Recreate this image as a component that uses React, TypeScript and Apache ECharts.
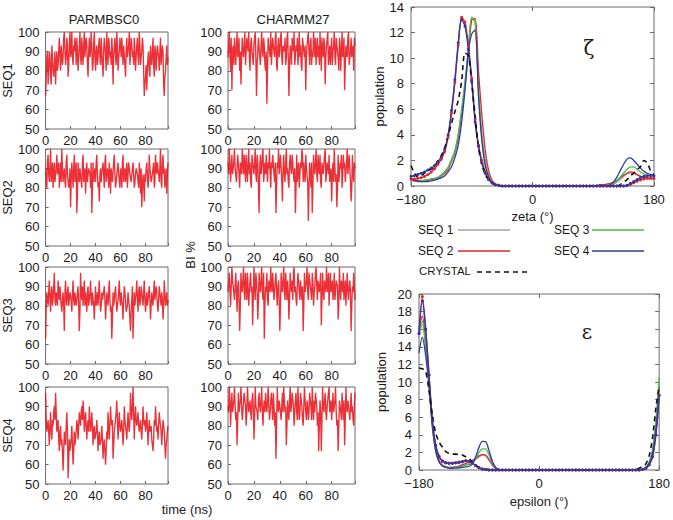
import React, { useEffect, useRef } from "react";
import * as echarts from "echarts";

// ---------- time series (BI %): frames at whole ns (A) and at half ns (B) ----------
const PARM_SEQ1 = [
  67, 87, 73, 90, 77, 93, 80, 83, 73, 90,
  83, 97, 80, 93, 87, 100, 83, 97, 77, 93,
  87, 100, 83, 90, 93, 97, 80, 93, 87, 97,
  83, 100, 87, 93, 77, 97, 90, 93, 83, 100,
  80, 93, 87, 97, 83, 90, 77, 97, 87, 100,
  83, 93, 90, 97, 73, 93, 87, 100, 80, 90,
  93, 97, 83, 93, 77, 97, 87, 100, 83, 93,
  90, 97, 80, 93, 87, 100, 83, 90, 93, 67,
  77, 70, 87, 80, 93, 83, 97, 77, 90, 87,
  93, 80, 97, 83, 90, 67, 80, 93, 87,
];
const PARM_SEQ1_B = [
  77, 90, 80, 87, 73, 87, 77, 90, 83, 80,
  90, 87, 93, 83, 97, 90, 87, 93, 83, 100,
  90, 87, 93, 97, 83, 90, 87, 100, 83, 90,
  93, 87, 97, 83, 90, 87, 100, 80, 93, 87,
  90, 83, 93, 87, 97, 83, 90, 93, 80, 90,
  97, 87, 83, 90, 87, 97, 83, 93, 87, 97,
  87, 90, 93, 83, 90, 87, 93, 83, 97, 87,
  83, 90, 87, 97, 83, 93, 87, 97, 80, 73,
  83, 80, 90, 77, 87, 90, 83, 93, 80, 93,
  87, 90, 83, 93, 73, 77, 87, 83,
];
const CHARMM_SEQ1 = [
  87, 100, 80, 70, 93, 97, 83, 100, 90, 80,
  73, 97, 87, 100, 83, 93, 100, 80, 97, 87,
  93, 100, 67, 90, 97, 83, 100, 87, 93, 80,
  63, 97, 90, 100, 83, 93, 87, 100, 80, 97,
  90, 100, 83, 93, 97, 87, 100, 67, 93, 83,
  97, 100, 87, 90, 83, 100, 93, 80, 97, 87,
  70, 93, 100, 83, 97, 90, 100, 87, 83, 97,
  93, 100, 80, 90, 97, 73, 93, 100, 87, 83,
  97, 90, 100, 83, 93, 87, 97, 80, 100, 90,
  70, 93, 87, 100, 83, 97, 90, 80, 93,
];
const CHARMM_SEQ1_B = [
  93, 87, 97, 90, 83, 90, 93, 87, 97, 90,
  87, 90, 93, 83, 97, 90, 87, 93, 90, 83,
  97, 87, 83, 97, 87, 93, 90, 97, 83, 90,
  80, 93, 87, 83, 97, 90, 97, 83, 93, 87,
  97, 87, 93, 90, 83, 97, 87, 83, 90, 97,
  90, 83, 93, 97, 90, 87, 83, 97, 90, 93,
  87, 97, 90, 93, 83, 87, 93, 97, 90, 87,
  83, 90, 97, 87, 93, 87, 97, 83, 93, 90,
  83, 93, 87, 97, 90, 80, 93, 90, 87, 97,
  83, 90, 97, 83, 90, 87, 93, 97,
];
const PARM_SEQ2 = [
  90, 80, 97, 83, 100, 87, 80, 93, 83, 97,
  87, 80, 93, 100, 83, 90, 80, 97, 87, 83,
  70, 93, 80, 97, 87, 67, 93, 83, 90, 80,
  97, 87, 77, 93, 83, 90, 80, 67, 93, 87,
  83, 97, 80, 73, 90, 87, 93, 80, 97, 83,
  87, 93, 77, 90, 83, 97, 80, 87, 93, 83,
  90, 80, 97, 87, 83, 93, 80, 90, 87, 83,
  93, 80, 87, 90, 83, 93, 77, 70, 87, 73,
  83, 93, 80, 97, 87, 83, 90, 80, 97, 87,
  93, 83, 100, 80, 97, 90, 83, 77, 93,
];
const PARM_SEQ2_B = [
  83, 93, 87, 90, 83, 93, 87, 83, 90, 87,
  93, 87, 83, 90, 87, 83, 93, 87, 80, 90,
  83, 87, 90, 83, 93, 77, 87, 90, 83, 93,
  83, 90, 87, 83, 90, 87, 93, 80, 83, 90,
  93, 87, 83, 87, 83, 90, 87, 93, 83, 90,
  80, 87, 90, 83, 93, 87, 83, 90, 87, 80,
  87, 93, 83, 90, 87, 80, 93, 87, 83, 90,
  87, 83, 90, 87, 80, 87, 90, 80, 83, 87,
  90, 87, 83, 90, 83, 87, 93, 83, 90, 93,
  87, 90, 83, 93, 87, 80, 90, 87,
];
const CHARMM_SEQ2 = [
  93, 100, 83, 97, 87, 100, 90, 83, 97, 80,
  93, 100, 87, 90, 97, 83, 100, 93, 80, 97,
  87, 100, 83, 93, 67, 97, 90, 100, 83, 87,
  97, 93, 100, 80, 90, 97, 83, 67, 93, 100,
  87, 90, 73, 97, 83, 100, 90, 80, 97, 87,
  93, 83, 67, 97, 90, 80, 93, 100, 83, 87,
  97, 90, 63, 93, 80, 67, 97, 87, 100, 83,
  90, 97, 80, 93, 87, 100, 83, 90, 97, 87,
  73, 93, 100, 83, 70, 97, 87, 90, 80, 97,
  93, 83, 100, 87, 90, 73, 97, 83, 90,
];
const CHARMM_SEQ2_B = [
  87, 93, 90, 87, 93, 90, 83, 97, 87, 93,
  87, 93, 97, 83, 90, 93, 87, 83, 97, 90,
  93, 87, 97, 80, 90, 87, 97, 83, 93, 97,
  83, 90, 87, 93, 97, 87, 93, 80, 90, 87,
  97, 83, 90, 87, 93, 87, 83, 93, 90, 97,
  87, 90, 80, 83, 93, 87, 90, 97, 93, 83,
  90, 83, 80, 87, 93, 80, 90, 93, 87, 97,
  87, 83, 93, 87, 97, 83, 93, 87, 83, 90,
  87, 83, 90, 87, 80, 83, 93, 97, 87, 90,
  83, 93, 87, 97, 83, 80, 87, 93,
];
const PARM_SEQ3 = [
  63, 87, 80, 93, 77, 90, 83, 97, 80, 87,
  93, 83, 90, 77, 87, 67, 93, 80, 90, 83,
  87, 77, 93, 80, 87, 83, 90, 67, 97, 83,
  80, 93, 87, 77, 90, 83, 93, 80, 87, 73,
  90, 83, 80, 93, 77, 87, 83, 90, 73, 87,
  80, 93, 77, 63, 87, 83, 90, 77, 83, 93,
  80, 87, 73, 90, 83, 77, 87, 80, 67, 83,
  63, 87, 80, 93, 77, 90, 83, 87, 80, 93,
  77, 87, 83, 90, 73, 87, 80, 93, 83, 87,
  77, 90, 83, 87, 73, 93, 80, 87, 83,
];
const PARM_SEQ3_B = [
  80, 83, 87, 83, 87, 80, 90, 83, 87, 80,
  87, 90, 80, 83, 80, 87, 83, 87, 80, 87,
  83, 87, 83, 87, 80, 87, 80, 77, 87, 90,
  87, 80, 83, 87, 80, 87, 83, 87, 80, 83,
  80, 87, 87, 83, 80, 83, 87, 83, 80, 83,
  87, 83, 80, 73, 80, 87, 83, 80, 87, 83,
  87, 80, 83, 87, 77, 80, 83, 73, 77, 90,
  77, 80, 87, 83, 87, 80, 90, 83, 87, 83,
  83, 80, 87, 83, 80, 83, 87, 83, 90, 80,
  83, 87, 80, 83, 80, 87, 83, 80,
];
const CHARMM_SEQ3 = [
  87, 97, 80, 100, 90, 83, 97, 77, 93, 67,
  97, 87, 100, 83, 90, 97, 80, 93, 87, 70,
  100, 83, 93, 73, 97, 87, 100, 83, 63, 90,
  97, 80, 93, 100, 87, 90, 83, 97, 80, 93,
  67, 97, 87, 100, 83, 90, 93, 73, 97, 87,
  83, 100, 90, 80, 97, 87, 93, 83, 67, 97,
  90, 100, 83, 93, 87, 97, 80, 90, 100, 83,
  93, 87, 70, 97, 83, 93, 100, 87, 80, 97,
  90, 83, 97, 87, 93, 73, 100, 83, 90, 97,
  87, 80, 97, 83, 93, 67, 90, 97, 83,
];
const CHARMM_SEQ3_B = [
  93, 87, 90, 93, 87, 90, 87, 90, 83, 80,
  90, 93, 87, 97, 83, 90, 87, 97, 90, 83,
  90, 97, 87, 83, 90, 93, 87, 97, 80, 87,
  83, 93, 87, 90, 97, 83, 93, 87, 90, 83,
  80, 90, 93, 87, 97, 83, 87, 83, 90, 93,
  97, 87, 83, 90, 93, 83, 87, 90, 80, 87,
  93, 87, 97, 90, 83, 93, 87, 97, 90, 93,
  87, 97, 83, 87, 93, 87, 90, 97, 90, 87,
  93, 87, 83, 93, 90, 80, 90, 93, 87, 83,
  93, 90, 87, 90, 87, 80, 87, 90,
];
const PARM_SEQ4 = [
  97, 77, 83, 70, 87, 73, 80, 90, 97, 77,
  83, 67, 80, 73, 57, 77, 70, 87, 53, 73,
  67, 80, 60, 77, 70, 83, 73, 87, 80, 90,
  93, 77, 87, 73, 83, 90, 77, 87, 70, 80,
  73, 83, 67, 77, 70, 80, 63, 73, 60, 77,
  87, 73, 90, 80, 63, 77, 83, 93, 73, 87,
  77, 83, 70, 90, 80, 73, 87, 77, 97, 83,
  100, 73, 90, 80, 87, 77, 83, 73, 90, 80,
  77, 87, 70, 83, 77, 73, 67, 83, 90, 77,
  73, 87, 80, 70, 83, 77, 63, 73, 80,
];
const PARM_SEQ4_B = [
  83, 80, 77, 80, 77, 83, 87, 83, 87, 80,
  73, 77, 70, 67, 67, 73, 80, 77, 63, 67,
  73, 70, 67, 70, 77, 80, 80, 83, 87, 83,
  87, 83, 80, 80, 77, 83, 80, 80, 77, 73,
  77, 77, 73, 70, 73, 73, 70, 67, 67, 73,
  80, 80, 83, 83, 70, 80, 87, 83, 80, 80,
  80, 77, 77, 83, 77, 80, 80, 83, 87, 90,
  87, 83, 83, 83, 80, 80, 77, 80, 83, 83,
  80, 80, 77, 77, 80, 70, 73, 80, 83, 80,
  80, 83, 77, 77, 80, 70, 70, 77,
];
const CHARMM_SEQ4 = [
  90, 100, 80, 97, 87, 100, 83, 70, 97, 90,
  100, 83, 93, 97, 80, 100, 87, 93, 83, 97,
  73, 100, 90, 83, 97, 87, 100, 80, 93, 97,
  87, 100, 83, 93, 90, 97, 80, 63, 100, 87,
  93, 83, 97, 100, 87, 70, 93, 83, 100, 90,
  97, 80, 93, 87, 100, 83, 97, 90, 80, 100,
  87, 93, 83, 97, 90, 100, 83, 87, 97, 80,
  67, 93, 67, 100, 87, 97, 83, 90, 100, 87,
  83, 97, 90, 100, 80, 67, 93, 87, 97, 83,
  70, 100, 87, 93, 83, 97, 90, 80, 97,
];
const CHARMM_SEQ4_B = [
  87, 93, 90, 87, 93, 90, 87, 83, 87, 93,
  90, 87, 97, 90, 87, 93, 90, 87, 93, 90,
  83, 90, 87, 93, 90, 93, 87, 90, 87, 90,
  93, 90, 87, 97, 83, 90, 87, 80, 90, 93,
  87, 90, 87, 93, 90, 80, 87, 93, 87, 97,
  90, 87, 97, 83, 90, 87, 93, 83, 90, 93,
  83, 90, 87, 93, 83, 90, 93, 97, 90, 87,
  80, 87, 83, 90, 93, 87, 90, 97, 87, 93,
  90, 87, 93, 87, 83, 80, 90, 83, 90, 93,
  83, 90, 93, 87, 90, 87, 83, 90,
];

const FORCE_FIELDS = ["PARMBSC0", "CHARMM27"];
const SEQ_NAMES = ["SEQ1", "SEQ2", "SEQ3", "SEQ4"];
const TIME_TICKS = [0, 20, 40, 60, 80];

// ---------- dihedral distributions (angle grid, degrees) ----------
const ANGLES = [
  -180, -175, -170, -165, -160, -155, -150, -145, -140, -135,
  -130, -125, -120, -115, -110, -105, -100, -95, -90, -85,
  -80, -75, -70, -65, -60, -55, -50, -45, -40, -35,
  -30, -25, -20, -15, -10, -5, 0, 5, 10, 15,
  20, 25, 30, 35, 40, 45, 50, 55, 60, 65,
  70, 75, 80, 85, 90, 95, 100, 105, 110, 115,
  120, 125, 130, 135, 140, 145, 150, 155, 160, 165,
  170, 175, 180,
];

// zeta populations
const ZETA_SEQ1 = [
  0.45, 0.4, 0.4, 0.4, 0.45, 0.5, 0.55, 0.6, 0.7, 0.9, 1.15, 1.5, 2.1, 2.8, 4.1, 6.0, 8.2, 10.8, 13.1, 12.9, 7.8, 4.0, 1.9, 0.8, 0.3, 0.1, 0.05,
  0, 0, 0, 0, 0, 0, 0, 0, 0, 0, 0, 0, 0, 0, 0, 0, 0, 0, 0, 0, 0, 0, 0, 0, 0, 0, 0, 0, 0, 0, 0,
  0.05, 0.1, 0.15, 0.3, 0.5, 0.75, 0.95, 1.0, 0.95, 0.85, 0.75, 0.7, 0.65, 0.6, 0.6,
];
const ZETA_SEQ2 = [
  0.45, 0.4, 0.35, 0.35, 0.4, 0.45, 0.5, 0.55, 0.6, 0.8, 1.0, 1.3, 1.9, 2.6, 3.8, 5.6, 7.8, 10.4, 13.0, 13.1, 9.0, 5.5, 2.8, 1.2, 0.45, 0.15, 0.05,
  0, 0, 0, 0, 0, 0, 0, 0, 0, 0, 0, 0, 0, 0, 0, 0, 0, 0, 0, 0, 0, 0, 0, 0, 0, 0, 0, 0, 0.05, 0.1, 0.1,
  0.15, 0.2, 0.3, 0.45, 0.65, 0.85, 1.0, 1.1, 1.05, 0.9, 0.75, 0.65, 0.6, 0.55, 0.55,
];
const ZETA_SEQ3 = [
  0.5, 0.45, 0.4, 0.4, 0.45, 0.5, 0.55, 0.6, 0.65, 0.85, 1.1, 1.4, 2.0, 2.7, 4.0, 5.9, 8.0, 10.6, 13.2, 12.8, 7.5, 3.8, 1.8, 0.8, 0.3, 0.1, 0.05,
  0, 0, 0, 0, 0, 0, 0, 0, 0, 0, 0, 0, 0, 0, 0, 0, 0, 0, 0, 0, 0, 0, 0, 0, 0, 0, 0, 0, 0, 0, 0,
  0.05, 0.1, 0.2, 0.4, 0.7, 1.0, 1.3, 1.5, 1.5, 1.3, 1.1, 0.95, 0.85, 0.8, 0.75,
];
const ZETA_SEQ4 = [
  0.5, 0.45, 0.4, 0.35, 0.35, 0.35, 0.4, 0.45, 0.55, 0.65, 0.8, 1.1, 1.5, 2.2, 3.2, 5.0, 7.5, 10.5, 11.9, 12.2, 7.0, 3.5, 1.6, 0.7, 0.25, 0.1, 0.03,
  0, 0, 0, 0, 0, 0, 0, 0, 0, 0, 0, 0, 0, 0, 0, 0, 0, 0, 0, 0, 0, 0, 0, 0, 0, 0, 0, 0, 0, 0, 0, 0,
  0.1, 0.3, 0.7, 1.2, 1.7, 2.1, 2.2, 2.0, 1.7, 1.4, 1.15, 1.0, 0.9, 0.85,
];
const ZETA_RED_DOTS = [
  0.55, 0.55, 0.6, 0.65, 0.75, 0.9, 1.1, 1.35, 1.7, 2.1, 2.7, 3.8, 5.7, 8.1, 11.0, 13.2, 12.8, 11.0, 8.4, 5.2, 3.2, 2.0, 1.1, 0.55, 0.25, 0.1, 0.05,
  0, 0, 0, 0, 0, 0, 0, 0, 0, 0, 0, 0, 0, 0, 0, 0, 0, 0, 0, 0, 0, 0, 0, 0, 0, 0, 0, 0, 0, 0, 0, 0, 0, 0, 0, 0,
  0, 0.03, 0.12, 0.25, 0.38, 0.48, 0.55, 0.6, 0.6, 0.6,
];
const ZETA_BLUE_DOTS = [
  0.75, 0.8, 0.9, 1.0, 1.1, 1.25, 1.4, 1.6, 1.9, 2.3, 2.9, 4.0, 5.9, 8.3, 11.2, 13.0, 12.5, 10.7, 8.2, 5.0, 3.1, 1.8, 1.0, 0.5, 0.25, 0.1, 0.05,
  0, 0, 0, 0, 0, 0, 0, 0, 0, 0, 0, 0, 0, 0, 0, 0, 0, 0, 0, 0, 0, 0, 0, 0, 0, 0, 0, 0, 0, 0, 0, 0, 0, 0, 0, 0,
  0, 0.05, 0.2, 0.35, 0.5, 0.65, 0.75, 0.8, 0.82, 0.8,
];
const ZETA_CRYSTAL = [
  1.6, 1.0, 0.7, 0.8, 1.0, 1.2, 1.3, 1.5, 2.0, 2.4, 3.0, 3.9, 4.9, 5.8, 6.7, 8.2, 10.4, 10.2, 8.0, 5.5, 3.0, 1.7, 0.9, 0.45, 0.2, 0.08, 0.03,
  0, 0, 0, 0, 0, 0, 0, 0, 0, 0, 0, 0, 0, 0, 0, 0, 0, 0, 0, 0, 0, 0, 0, 0, 0, 0, 0, 0, 0, 0, 0, 0, 0, 0, 0,
  0.1, 0.3, 0.5, 0.8, 1.0, 1.3, 1.5, 2.0, 1.8, 1.2, 0.9,
];

// epsilon populations
const EPS_SEQ1 = [
  15.0, 16.5, 14.0, 10.0, 5.2, 2.3, 1.0, 0.5, 0.35, 0.3, 0.3, 0.35, 0.45, 0.55, 0.65, 0.7, 0.9, 1.2, 1.5, 1.7, 1.6, 1.1, 0.5, 0.15, 0.05, 0.02,
  0, 0, 0, 0, 0, 0, 0, 0, 0, 0, 0, 0, 0, 0, 0, 0, 0, 0, 0, 0, 0, 0, 0, 0, 0, 0, 0, 0, 0, 0, 0, 0, 0, 0, 0, 0, 0, 0,
  0, 0, 0.02, 0.1, 0.3, 0.8, 2.0, 4.8, 9.0,
];
const EPS_SEQ2 = [
  16.0, 17.5, 14.5, 10.5, 5.5, 2.5, 1.1, 0.55, 0.35, 0.3, 0.3, 0.35, 0.45, 0.6, 0.75, 0.9, 1.1, 1.3, 1.6, 1.75, 1.7, 1.2, 0.6, 0.2, 0.05, 0.02,
  0, 0, 0, 0, 0, 0, 0, 0, 0, 0, 0, 0, 0, 0, 0, 0, 0, 0, 0, 0, 0, 0, 0, 0, 0, 0, 0, 0, 0, 0, 0, 0, 0, 0, 0, 0, 0, 0,
  0, 0, 0.02, 0.1, 0.3, 0.8, 2.0, 4.8, 9.5,
];
const EPS_SEQ3 = [
  15.5, 16.9, 14.0, 9.8, 4.8, 2.1, 0.9, 0.45, 0.3, 0.25, 0.25, 0.3, 0.35, 0.45, 0.55, 0.6, 0.8, 1.3, 2.0, 2.4, 2.4, 1.7, 0.8, 0.25, 0.05, 0.02,
  0, 0, 0, 0, 0, 0, 0, 0, 0, 0, 0, 0, 0, 0, 0, 0, 0, 0, 0, 0, 0, 0, 0, 0, 0, 0, 0, 0, 0, 0, 0, 0, 0, 0, 0, 0, 0, 0,
  0, 0, 0.02, 0.1, 0.35, 0.9, 2.3, 5.5, 10.5,
];
const EPS_SEQ4 = [
  13.3, 15.1, 13.0, 9.5, 5.0, 2.2, 0.95, 0.45, 0.3, 0.22, 0.2, 0.22, 0.25, 0.3, 0.35, 0.4, 0.7, 1.5, 2.6, 3.25, 3.2, 2.2, 1.0, 0.3, 0.05, 0.02,
  0, 0, 0, 0, 0, 0, 0, 0, 0, 0, 0, 0, 0, 0, 0, 0, 0, 0, 0, 0, 0, 0, 0, 0, 0, 0, 0, 0, 0, 0, 0, 0, 0, 0, 0, 0, 0, 0,
  0, 0, 0.02, 0.08, 0.25, 0.7, 1.8, 4.4, 8.5,
];
const EPS_RED_DOTS = [
  15.5, 19.7, 16.0, 10.8, 5.6, 2.8, 1.6, 1.05, 0.85, 0.8, 0.8, 0.85, 0.9, 0.95, 1.05, 1.0, 0.8, 0.5, 0.25, 0.1, 0.05, 0, 0, 0, 0, 0,
  0, 0, 0, 0, 0, 0, 0, 0, 0, 0, 0, 0, 0, 0, 0, 0, 0, 0, 0, 0, 0, 0, 0, 0, 0, 0, 0, 0, 0, 0, 0, 0, 0, 0, 0, 0, 0, 0,
  0, 0, 0, 0.05, 0.2, 0.6, 1.5, 4.0, 8.5,
];
const EPS_BLUE_DOTS = [
  15.5, 19.2, 16.0, 10.8, 5.6, 2.8, 1.5, 1.0, 0.8, 0.75, 0.75, 0.8, 0.85, 0.95, 1.05, 1.0, 0.8, 0.5, 0.25, 0.1, 0.05, 0, 0, 0, 0, 0,
  0, 0, 0, 0, 0, 0, 0, 0, 0, 0, 0, 0, 0, 0, 0, 0, 0, 0, 0, 0, 0, 0, 0, 0, 0, 0, 0, 0, 0, 0, 0, 0, 0, 0, 0, 0, 0, 0,
  0, 0, 0, 0.05, 0.2, 0.6, 1.5, 4.0, 8.5,
];
const EPS_CRYSTAL = [
  11.6, 11.5, 11.2, 9.0, 6.3, 4.2, 3.2, 2.6, 2.1, 1.9, 1.8, 1.8, 1.75, 1.7, 1.5, 1.3, 0.9, 0.5, 0.3, 0.15, 0.1, 0.05, 0, 0, 0, 0,
  0, 0, 0, 0, 0, 0, 0, 0, 0, 0, 0, 0, 0, 0, 0, 0, 0, 0, 0, 0, 0, 0, 0, 0, 0, 0, 0, 0, 0, 0, 0, 0, 0, 0, 0, 0, 0, 0,
  0, 0.05, 0.2, 0.4, 0.7, 1.6, 3.6, 7.0, 9.5,
];

const LEGEND_NAMES = ["SEQ 1", "SEQ 2", "SEQ 3", "SEQ 4", "CRYSTAL"];

// ---------- layout / style ----------
const FONT = "'Liberation Sans', Arial, Helvetica, sans-serif";
const TXT = "#1a1a1a";
const BORDER = "#6a6a6a";
const C_GRAY = "#a3a3a3";
const C_RED = "#e0262b";
const C_GREEN = "#45bf3f";
const C_BLUE = "#2c3aa8";
const C_BLACK = "#111111";
const TS_RED = "#e8141b";

const COL_LEFT = [41, 228];
const PANEL_W = 127;
const ROW_TOP = [32, 149, 267, 387];
const PANEL_H = 97;
const ZETA_GRID = { left: 411, top: 7, width: 243, height: 179 };
const EPS_GRID = { left: 419, top: 294, width: 244, height: 176 };

function buildOption() {
  const tsA = [PARM_SEQ1, CHARMM_SEQ1, PARM_SEQ2, CHARMM_SEQ2, PARM_SEQ3, CHARMM_SEQ3, PARM_SEQ4, CHARMM_SEQ4];
  const tsB = [PARM_SEQ1_B, CHARMM_SEQ1_B, PARM_SEQ2_B, CHARMM_SEQ2_B, PARM_SEQ3_B, CHARMM_SEQ3_B, PARM_SEQ4_B, CHARMM_SEQ4_B];
  const grid: any[] = [];
  const xAxis: any[] = [];
  const yAxis: any[] = [];
  const series: any[] = [];
  const noLine = { show: false, onZero: false };

  tsA.forEach((vals, p) => {
    const r = Math.floor(p / 2);
    const c = p % 2;
    grid.push({ left: COL_LEFT[c], top: ROW_TOP[r], width: PANEL_W, height: PANEL_H, show: true, borderColor: BORDER, borderWidth: 1, backgroundColor: "transparent" });
    xAxis.push({
      type: "value", gridIndex: p, min: 0, max: 98, interval: 20,
      axisLine: noLine, splitLine: { show: false },
      axisTick: { show: true, inside: true, length: 3, lineStyle: { color: BORDER } },
      axisLabel: { fontFamily: FONT, fontSize: 13, color: TXT, margin: 5, formatter: (v: number) => (TIME_TICKS.includes(v) ? String(v) : "") },
    });
    yAxis.push({
      type: "value", gridIndex: p, min: 50, max: 100, interval: 10,
      axisLine: noLine, splitLine: { show: false },
      axisTick: { show: true, inside: true, length: 3, lineStyle: { color: BORDER } },
      axisLabel: { fontFamily: FONT, fontSize: 13, color: TXT, margin: 6 },
      name: c === 0 ? SEQ_NAMES[r] : "",
      nameLocation: "middle", nameGap: 27, nameRotate: 90,
      nameTextStyle: { fontFamily: FONT, fontSize: 13, color: TXT },
    });
    const half = tsB[p];
    const data: number[][] = [];
    vals.forEach((v, i) => {
      data.push([i, v]);
      if (i < half.length) data.push([i + 0.5, half[i]]);
    });
    series.push({
      type: "line", xAxisIndex: p, yAxisIndex: p, silent: true, symbol: "none",
      data,
      lineStyle: { color: TS_RED, width: 1.35, opacity: 0.88, join: "bevel" },
    });
  });

  const distGrids = [ZETA_GRID, EPS_GRID];
  distGrids.forEach((g) => grid.push({ ...g, show: true, borderColor: BORDER, borderWidth: 1, backgroundColor: "transparent" }));
  const gZ = 8, gE = 9;
  const xLab = { fontFamily: FONT, fontSize: 13, color: TXT, margin: 7, formatter: (v: number) => String(v).replace("-", "\u2212") };
  const tick = { show: true, inside: true, length: 4, lineStyle: { color: BORDER } };
  const nameStyle = { fontFamily: FONT, fontSize: 13, color: TXT };
  xAxis.push({ type: "value", gridIndex: gZ, min: -180, max: 180, interval: 180, axisLine: noLine, splitLine: { show: false }, axisTick: tick, axisLabel: xLab, name: "zeta (°)", nameLocation: "middle", nameGap: 24, nameTextStyle: nameStyle });
  xAxis.push({ type: "value", gridIndex: gE, min: -180, max: 180, interval: 180, axisLine: noLine, splitLine: { show: false }, axisTick: tick, axisLabel: xLab, name: "epsilon (°)", nameLocation: "middle", nameGap: 25, nameTextStyle: nameStyle });
  yAxis.push({ type: "value", gridIndex: gZ, min: 0, max: 14, interval: 2, axisLine: noLine, splitLine: { show: false }, axisTick: tick, axisLabel: { fontFamily: FONT, fontSize: 13, color: TXT, margin: 7 }, name: "population", nameLocation: "middle", nameGap: 24, nameRotate: 90, nameTextStyle: nameStyle });
  yAxis.push({ type: "value", gridIndex: gE, min: 0, max: 20, interval: 2, axisLine: noLine, splitLine: { show: false }, axisTick: tick, axisLabel: { fontFamily: FONT, fontSize: 13, color: TXT, margin: 7 }, name: "population", nameLocation: "middle", nameGap: 31, nameRotate: 90, nameTextStyle: nameStyle });
  // mirror ticks (top / right)
  xAxis.push({ type: "value", gridIndex: gZ, position: "top", min: -180, max: 180, interval: 180, axisLine: noLine, splitLine: { show: false }, axisTick: tick, axisLabel: { show: false } });
  xAxis.push({ type: "value", gridIndex: gE, position: "top", min: -180, max: 180, interval: 180, axisLine: noLine, splitLine: { show: false }, axisTick: tick, axisLabel: { show: false } });
  yAxis.push({ type: "value", gridIndex: gZ, position: "right", min: 0, max: 14, interval: 2, axisLine: noLine, splitLine: { show: false }, axisTick: tick, axisLabel: { show: false } });
  yAxis.push({ type: "value", gridIndex: gE, position: "right", min: 0, max: 20, interval: 2, axisLine: noLine, splitLine: { show: false }, axisTick: tick, axisLabel: { show: false } });

  const dist = (vals: number[], axis: number, color: string, extra: any = {}) => ({
    type: "line", xAxisIndex: axis, yAxisIndex: axis, silent: true, smooth: 0.3,
    data: ANGLES.map((a, i) => [a, vals[i]]),
    symbol: "none",
    lineStyle: { color, width: 1.3 },
    ...extra,
  });
  const dots = (color: string) => ({ symbol: "circle", symbolSize: 3, showSymbol: true, itemStyle: { color }, lineStyle: { color, width: 1.4 } });
  const crystal = { lineStyle: { color: C_BLACK, width: 1.6, type: [5, 4] } };

  series.push(dist(ZETA_SEQ1, gZ, C_GRAY));
  series.push(dist(ZETA_SEQ2, gZ, C_RED));
  series.push(dist(ZETA_SEQ3, gZ, C_GREEN));
  series.push(dist(ZETA_SEQ4, gZ, C_BLUE));
  series.push(dist(ZETA_RED_DOTS, gZ, C_RED, dots(C_RED)));
  series.push(dist(ZETA_BLUE_DOTS, gZ, C_BLUE, dots(C_BLUE)));
  series.push(dist(ZETA_CRYSTAL, gZ, C_BLACK, crystal));

  series.push(dist(EPS_SEQ1, gE, C_GRAY));
  series.push(dist(EPS_SEQ2, gE, C_RED));
  series.push(dist(EPS_SEQ3, gE, C_GREEN));
  series.push(dist(EPS_SEQ4, gE, C_BLUE));
  series.push(dist(EPS_RED_DOTS, gE, C_RED, dots(C_RED)));
  series.push(dist(EPS_BLUE_DOTS, gE, C_BLUE, dots(C_BLUE)));
  series.push(dist(EPS_CRYSTAL, gE, C_BLACK, crystal));

  const t = (text: string, x: number, y: number, extra: any = {}) => ({
    type: "text", x, y, silent: true,
    style: { text, fill: TXT, font: `13px ${FONT}`, textAlign: "center", textVerticalAlign: "middle", ...extra },
  });
  const legendItems = [
    { name: LEGEND_NAMES[0], x: 418, lx: 458, y: 230, color: C_GRAY },
    { name: LEGEND_NAMES[2], x: 554, lx: 592, y: 230, color: C_GREEN },
    { name: LEGEND_NAMES[1], x: 418, lx: 458, y: 251, color: C_RED },
    { name: LEGEND_NAMES[3], x: 554, lx: 592, y: 251, color: C_BLUE },
  ];
  const graphic: any[] = [
    t(FORCE_FIELDS[0], 104, 19),
    t(FORCE_FIELDS[1], 293, 19),
    t("time (ns)", 187, 509),
    { type: "text", x: 190, y: 255, rotation: Math.PI / 2, silent: true, style: { text: "BI %", fill: TXT, font: `13px ${FONT}`, textAlign: "center", textVerticalAlign: "middle" } },
    t("\u03b6", 589, 48, { font: `20px 'DejaVu Serif', serif` }),
    t("\u03b5", 587, 332, { font: `20px 'DejaVu Serif', serif` }),
  ];
  legendItems.forEach((it) => {
    graphic.push(t(it.name, it.x, it.y, { textAlign: "left", font: `12px ${FONT}` }));
    graphic.push({ type: "line", silent: true, shape: { x1: it.lx, y1: it.y, x2: it.lx + 52, y2: it.y }, style: { stroke: it.color, lineWidth: 1.4 } });
  });
  graphic.push(t(LEGEND_NAMES[4], 419, 271, { textAlign: "left", font: `11.5px ${FONT}` }));
  graphic.push({ type: "line", silent: true, shape: { x1: 477, y1: 272, x2: 527, y2: 272 }, style: { stroke: C_BLACK, lineWidth: 1.6, lineDash: [5, 4] } });

  return { animation: false, backgroundColor: "#ffffff", grid, xAxis, yAxis, series, graphic };
}

export default function App() {
  const ref = useRef<HTMLDivElement>(null);
  useEffect(() => {
    if (!ref.current) return;
    const chart = echarts.init(ref.current, undefined, { renderer: "svg" });
    chart.setOption(buildOption() as any);
    return () => chart.dispose();
  }, []);
  return <div ref={ref} style={{ position: "absolute", left: 0, top: 0, width: 673, height: 520 }} />;
}
